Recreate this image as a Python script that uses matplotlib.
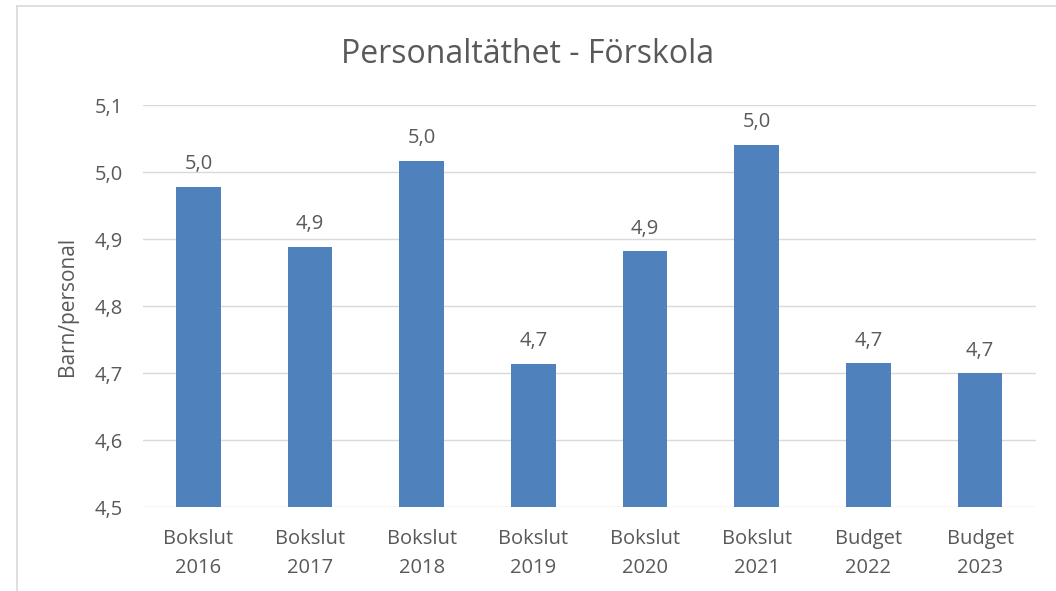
import matplotlib.pyplot as plt
from matplotlib.lines import Line2D

categories = ["Bokslut\n2016", "Bokslut\n2017", "Bokslut\n2018", "Bokslut\n2019",
              "Bokslut\n2020", "Bokslut\n2021", "Budget\n2022", "Budget\n2023"]
values = [4.978, 4.889, 5.017, 4.714, 4.882, 5.041, 4.715, 4.700]
yticks = [4.5, 4.6, 4.7, 4.8, 4.9, 5.0, 5.1]

plt.rcParams['font.family'] = ['Open Sans', 'DejaVu Sans']
txt = '#595959'

fig = plt.figure(figsize=(10.56, 5.91), dpi=100)
ax = fig.add_axes([0.135, 0.142, 0.846, 0.680])

x = range(len(categories))
bars = ax.bar(x, values, width=0.40, color='#4f81bd', zorder=3)
for b, v in zip(bars, values):
    ax.annotate(f"{v:.1f}".replace('.', ','), (b.get_x() + b.get_width() / 2, v),
                xytext=(0, 9), textcoords='offset points', ha='center', va='bottom',
                fontsize=14.5, color=txt)

ax.set_xlim(-0.5, len(categories) - 0.5)
ax.set_ylim(4.5, 5.1)
ax.set_yticks(yticks)
ax.set_yticklabels([f"{t:.1f}".replace('.', ',') for t in yticks], fontsize=14.5, color=txt)
ax.set_xticks(list(x))
ax.set_xticklabels(categories, fontsize=14.5, color=txt, linespacing=1.6)
ax.tick_params(length=0)
ax.tick_params(axis='y', pad=14)
ax.tick_params(axis='x', pad=16)
ax.grid(axis='y', color='#d9d9d9', linewidth=1, zorder=0)
for s in ax.spines.values():
    s.set_visible(False)
ax.set_ylabel("Barn/personal", fontsize=15, color=txt, labelpad=12)
fig.text(0.5, 0.908, "Personaltäthet - Förskola", ha='center', va='center',
         fontsize=23, color=txt)

# chart frame (top and left edges visible)
fig.add_artist(Line2D([17 / 1056, 1.0], [1 - 6 / 591] * 2, transform=fig.transFigure,
                      color='#d9d9d9', linewidth=1.2))
fig.add_artist(Line2D([17 / 1056] * 2, [0, 1 - 6 / 591], transform=fig.transFigure,
                      color='#d9d9d9', linewidth=1.2))

fig.savefig("out.png", dpi=100)
